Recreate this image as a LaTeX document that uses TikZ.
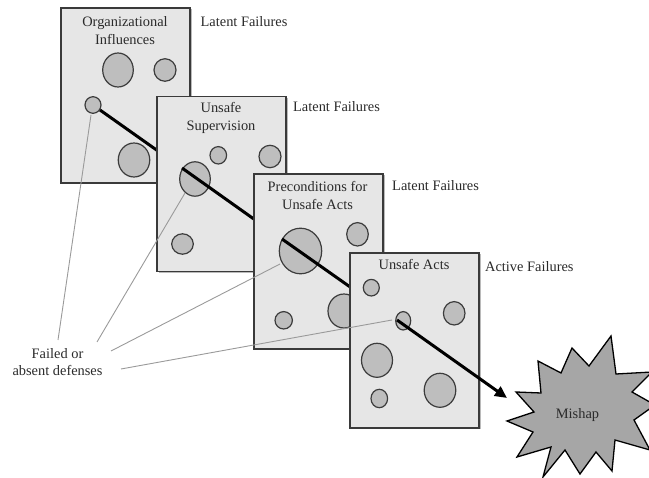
\documentclass[tikz,border=0pt]{standalone}
\usepackage{fontspec}
\setmainfont{Liberation Serif}
\usetikzlibrary{arrows.meta,shadows,shapes.geometric}
\definecolor{panelfill}{HTML}{E6E6E6}
\definecolor{panelline}{HTML}{3A3A3A}
\definecolor{holefill}{HTML}{BEBEBE}
\definecolor{holeline}{HTML}{3C3C3C}
\definecolor{starfill}{HTML}{A6A6A6}
\definecolor{leader}{HTML}{9A9A9A}
\definecolor{ink}{HTML}{2A2A2A}
\begin{document}
\begin{tikzpicture}[x=1pt,y=-1pt,
  panel/.style={rectangle,draw=panelline,fill=panelfill,line width=1.5pt,
    minimum width=129pt,minimum height=175pt,inner sep=0pt,
    drop shadow={shadow xshift=1.5pt,shadow yshift=-1.5pt,fill=black!45,opacity=0.6}},
  hole/.style={ellipse,draw=holeline,fill=holefill,line width=1.2pt,inner sep=0pt},
  beam/.style={line width=3pt,black},
  leaderline/.style={draw=leader,line width=0.9pt},
  lbl/.style={font=\fontsize{14.4}{17}\selectfont,text=ink,inner sep=0pt,anchor=base},
  lblw/.style={lbl,anchor=base west}]
\useasboundingbox (0,0) rectangle (649,478);

% points along the chain of holes
\coordinate (b1) at (100,110);
\coordinate (b2) at (182,168);
\coordinate (b3) at (282,239);
\coordinate (b4) at (397,320);
\coordinate (tip) at (507,398);

% --- layer 1
\node[panel] (p1) at (125.5,95.5) {};
\node[hole,minimum width=30.6pt,minimum height=34pt] (h11) at (118,70) {};
\node[hole,minimum width=22pt,minimum height=22.5pt] (h12) at (165,70) {};
\node[hole,minimum width=16pt,minimum height=16.6pt] (h13) at (93,105) {};
\node[hole,minimum width=31.5pt,minimum height=34pt] (h14) at (134,160) {};
\draw[beam] (b1) -- (b2);

% --- layer 2
\node[panel] (p2) at (221.5,184) {};
\node[hole,minimum width=16.6pt,minimum height=17.4pt] (h21) at (218.3,155.3) {};
\node[hole,minimum width=22pt,minimum height=22.4pt] (h22) at (270,156.5) {};
\node[hole,minimum width=30.6pt,minimum height=34.4pt] (h23) at (195,179) {};
\node[hole,minimum width=21.6pt,minimum height=20.4pt] (h24) at (182.5,244) {};
\draw[beam] (b2) -- (b3);

% --- layer 3
\node[panel] (p3) at (318.5,261.5) {};
\node[hole,minimum width=42.4pt,minimum height=45.6pt] (h31) at (300.5,251) {};
\node[hole,minimum width=21.6pt,minimum height=23.4pt] (h32) at (357.5,234.3) {};
\node[hole,minimum width=17.4pt,minimum height=17.4pt] (h33) at (283.7,320.3) {};
\node[hole,minimum width=32pt,minimum height=34pt] (h34) at (344,311) {};
\draw[beam] (b3) -- (b4);

% --- layer 4
\node[panel] (p4) at (414.5,340.5) {};
\node[hole,minimum width=16pt,minimum height=16.6pt] (h41) at (371.3,287.7) {};
\node[hole,minimum width=15pt,minimum height=18.4pt] (h42) at (403.2,320.8) {};
\node[hole,minimum width=21.6pt,minimum height=23.4pt] (h43) at (454.2,313.3) {};
\node[hole,minimum width=31pt,minimum height=34pt] (h44) at (377,360.3) {};
\node[hole,minimum width=16.6pt,minimum height=18.4pt] (h45) at (379.3,398.5) {};
\node[hole,minimum width=31.6pt,minimum height=34pt] (h46) at (440,390.3) {};

% --- mishap burst
\draw[fill=starfill,draw=black,line width=1.3pt,line join=miter]
  (516,392) -- (541,393) -- (538,361) -- (561,373) -- (572,348)
  -- (589,366) -- (611,336) -- (616,374) -- (652,372) -- (632,392)
  -- (655,405) -- (634,420) -- (650,450) -- (615,440) -- (612,471)
  -- (596,452) -- (580,474) -- (565,450) -- (543,477) -- (551,447)
  -- (517,457) -- (533,432) -- (507,421) -- (534,412) -- cycle;
\node[lbl] (mishap) at (577.5,419) {Mishap};

\draw[beam,-{Triangle[length=12pt,width=11pt]}] (b4) -- (tip);

% --- leader lines to the failed defenses
\coordinate (d1) at (91,115);
\coordinate (d2) at (185,193);
\coordinate (d3) at (280,264);
\coordinate (d4) at (392,320);
\coordinate (e1) at (58,340);
\coordinate (e2) at (97,342);
\coordinate (e3) at (111,351);
\coordinate (e4) at (121,369);
\draw[leaderline] (d1) -- (e1);
\draw[leaderline] (d2) -- (e2);
\draw[leaderline] (d3) -- (e3);
\draw[leaderline] (d4) -- (e4);

% --- labels
\node[lbl] (t1a) at (125,27) {Organizational};
\node[lbl] (t1b) at (125,45) {Influences};
\node[lbl] (t2a) at (221,113) {Unsafe};
\node[lbl] (t2b) at (221,131) {Supervision};
\node[lbl] (t3a) at (317.5,192) {Preconditions for};
\node[lbl] (t3b) at (317.5,210) {Unsafe Acts};
\node[lbl] (t4a) at (414,270) {Unsafe Acts};

\node[lblw] (f1) at (200.5,27) {Latent Failures};
\node[lblw] (f2) at (293,112) {Latent Failures};
\node[lblw] (f3) at (392,191) {Latent Failures};
\node[lblw] (f4) at (485,272) {Active Failures};

\node[lbl] (dfa) at (57.5,359) {Failed or};
\node[lbl] (dfb) at (57.5,376) {absent defenses};
\end{tikzpicture}
\end{document}
